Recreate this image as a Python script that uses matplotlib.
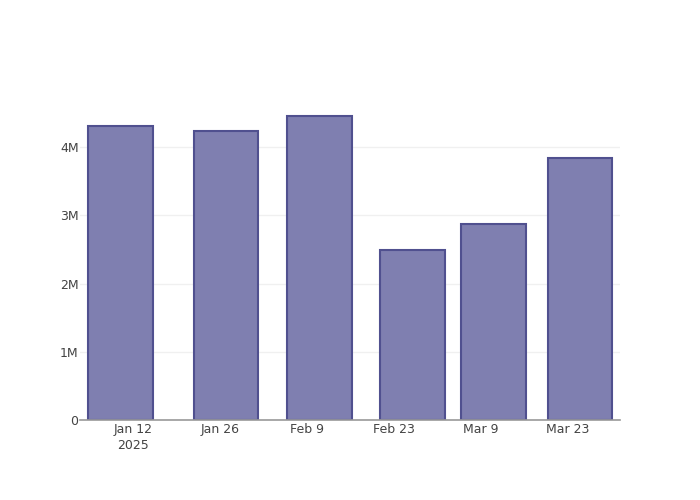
import numpy as np
import pandas as pd
import matplotlib
matplotlib.use("Agg")
import matplotlib.pyplot as plt
import matplotlib.dates as mdates

dates = pd.to_datetime(["2025-01-10", "2025-01-27", "2025-02-11",
                        "2025-02-26", "2025-03-11", "2025-03-25"])
values = [4.31e6, 4.235e6, 4.456e6, 2.485e6, 2.868e6, 3.838e6]

tick_dates = pd.to_datetime(["2025-01-12", "2025-01-26", "2025-02-09",
                             "2025-02-23", "2025-03-09", "2025-03-23"])
tick_labels = ["Jan 12\n2025", "Jan 26", "Feb 9", "Feb 23", "Mar 9", "Mar 23"]
y_ticks = [0, 1e6, 2e6, 3e6, 4e6]
y_labels = ["0", "1M", "2M", "3M", "4M"]

plt.rcParams["font.family"] = ["DejaVu Sans"]

fig = plt.figure(figsize=(7, 5), dpi=100)
ax = fig.add_axes([80 / 700, 80 / 500, 540 / 700, 320 / 500])

ax.bar(dates, values, width=10.4, color="#7f7fb0", edgecolor="#50508f",
       linewidth=1.5, zorder=2)

ax.set_xlim(pd.Timestamp("2025-01-03 11:00"), pd.Timestamp("2025-03-31 10:00"))
ax.set_ylim(0, 4.69e6)

ax.set_xticks(tick_dates)
ax.set_xticklabels(tick_labels, fontsize=9, color="#444444", linespacing=1.3)
ax.set_yticks(y_ticks)
ax.set_yticklabels(y_labels, fontsize=9, color="#444444")
ax.tick_params(axis="x", length=0, pad=2)
ax.tick_params(axis="y", length=0, pad=1)

ax.grid(axis="y", color="#f0f0f0", linewidth=1, zorder=0)
for side in ["top", "right", "left"]:
    ax.spines[side].set_visible(False)
ax.spines["bottom"].set_color("#999999")
ax.spines["bottom"].set_linewidth(1.2)
ax.spines["bottom"].set_zorder(3)

fig.savefig("out.png", dpi=100)
